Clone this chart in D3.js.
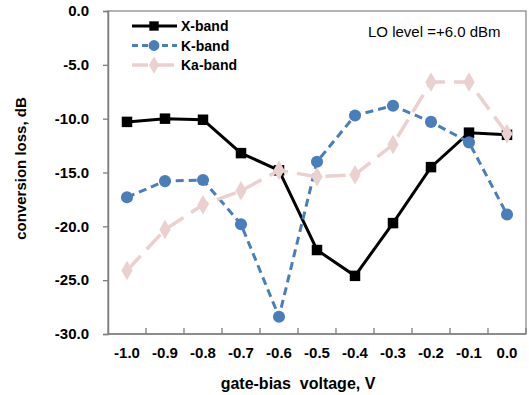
<!DOCTYPE html>
<html>
<head>
<meta charset="utf-8">
<script src="https://cdn.jsdelivr.net/npm/d3@7"></script>
<style>
  body { margin: 0; background: #fff; }
  svg { display: block; font-family: "Liberation Sans", Arial, sans-serif; }
</style>
</head>
<body>
<svg id="chart" width="529" height="395"></svg>
<script>
// data
const categories = ["-1.0", "-0.9", "-0.8", "-0.7", "-0.6", "-0.5", "-0.4", "-0.3", "-0.2", "-0.1", "0.0"];
const xBand = [-10.3, -10.0, -10.1, -13.2, -14.8, -22.2, -24.6, -19.7, -14.5, -11.3, -11.5];
const kBand = [-17.3, -15.8, -15.7, -19.8, -28.4, -14.0, -9.7, -8.8, -10.3, -12.2, -18.9];
const kaBand = [-24.1, -20.3, -18.0, -16.7, -14.8, -15.4, -15.2, -12.4, -6.6, -6.6, -11.4];
const yTicks = [0, -5, -10, -15, -20, -25, -30];

const series = [
  { name: "X-band", values: xBand, color: "#000000", dash: null, width: 3, marker: "square" },
  { name: "K-band", values: kBand, color: "#4a7ebb", dash: "8,5", width: 3, marker: "circle" },
  { name: "Ka-band", values: kaBand, color: "#ead0cf", dash: "20,9", width: 3.5, marker: "diamond" }
];

const margin = { top: 11, right: 3, bottom: 61, left: 108 };
const width = 529 - margin.left - margin.right;
const height = 395 - margin.top - margin.bottom;

const svg = d3.select("#chart");
const g = svg.append("g").attr("transform", "translate(" + margin.left + "," + margin.top + ")");

const x = d3.scaleBand().domain(categories).range([0, width]);
const y = d3.scaleLinear().domain([-30, 0]).range([height, 0]);

// plot border (top / right)
g.append("rect")
  .attr("x", 0).attr("y", 0)
  .attr("width", width).attr("height", height)
  .attr("fill", "none")
  .attr("stroke", "#8c8c8c")
  .attr("stroke-width", 1.3);

// y axis, plain hyphen for the minus like the original
const fmt = d => d3.format(".1f")(d).replace("\u2212", "-");
const yAxis = g.append("g")
  .call(d3.axisLeft(y).tickValues(yTicks).tickSize(5).tickPadding(14).tickFormat(fmt));
yAxis.select(".domain").attr("stroke", "#7f7f7f").attr("stroke-width", 1.5);
yAxis.selectAll(".tick line").attr("stroke", "#7f7f7f").attr("stroke-width", 1.3);
yAxis.selectAll(".tick text")
  .attr("font-size", 15).attr("font-weight", "bold").attr("fill", "#000")
  .style("font-family", "'Liberation Sans', Arial, sans-serif");

// x axis, ticks at band boundaries pointing inward
const xAxis = g.append("g").attr("transform", "translate(0," + height + ")");
xAxis.append("line")
  .attr("x1", 0).attr("x2", width)
  .attr("stroke", "#7f7f7f").attr("stroke-width", 1.5);
xAxis.selectAll(".xtick")
  .data(categories)
  .enter().append("line")
  .attr("class", "xtick")
  .attr("x1", d => x(d) + x.bandwidth())
  .attr("x2", d => x(d) + x.bandwidth())
  .attr("y1", 0).attr("y2", -6)
  .attr("stroke", "#7f7f7f").attr("stroke-width", 1.3);
xAxis.selectAll(".xlabel")
  .data(categories)
  .enter().append("text")
  .attr("class", "xlabel")
  .attr("x", d => x(d) + x.bandwidth() / 2)
  .attr("y", 24)
  .attr("text-anchor", "middle")
  .attr("font-size", 15).attr("font-weight", "bold")
  .text(d => d);

// axis titles
svg.append("text")
  .attr("x", 298).attr("y", 389)
  .attr("text-anchor", "middle")
  .attr("font-size", 16).attr("font-weight", "bold")
  .style("white-space", "pre")
  .text("gate-bias  voltage, V");

svg.append("text")
  .attr("transform", "translate(26," + (margin.top + height / 2 - 4) + ") rotate(-90)")
  .attr("text-anchor", "middle")
  .attr("font-size", 15).attr("font-weight", "bold")
  .text("conversion loss, dB");

// lines + markers
const line = d3.line()
  .x((d, i) => x(categories[i]) + x.bandwidth() / 2)
  .y(d => y(d));

const symbols = { square: d3.symbolSquare, circle: d3.symbolCircle, diamond: d3.symbolDiamond };
const sizes = { square: 110, circle: 115, diamond: 110 };

series.forEach(s => {
  g.append("path")
    .datum(s.values)
    .attr("fill", "none")
    .attr("stroke", s.color)
    .attr("stroke-width", s.width)
    .attr("stroke-dasharray", s.dash)
    .attr("d", line);
  g.selectAll(".m-" + s.marker)
    .data(s.values)
    .enter().append("path")
    .attr("class", "m-" + s.marker)
    .attr("transform", (d, i) => "translate(" + (x(categories[i]) + x.bandwidth() / 2) + "," + y(d) + ")")
    .attr("d", d3.symbol().type(symbols[s.marker]).size(sizes[s.marker]))
    .attr("fill", s.color);
});

// legend
const legend = svg.append("g").attr("transform", "translate(132,26)");
series.forEach((s, i) => {
  const row = legend.append("g").attr("transform", "translate(0," + (i * 19.5) + ")");
  row.append("line")
    .attr("x1", 0).attr("x2", 45)
    .attr("stroke", s.color)
    .attr("stroke-width", s.width)
    .attr("stroke-dasharray", s.dash ? (i === 1 ? "6,4" : "16,10") : null);
  row.append("path")
    .attr("transform", "translate(22,0)")
    .attr("d", d3.symbol().type(symbols[s.marker]).size(sizes[s.marker] * 0.8))
    .attr("fill", s.color);
  row.append("text")
    .attr("x", 49).attr("y", 5)
    .attr("font-size", 14).attr("font-weight", "bold")
    .text(s.name);
});

svg.append("text")
  .attr("x", 368).attr("y", 37)
  .attr("font-size", 15)
  .text("LO level =+6.0 dBm");
</script>
</body>
</html>
